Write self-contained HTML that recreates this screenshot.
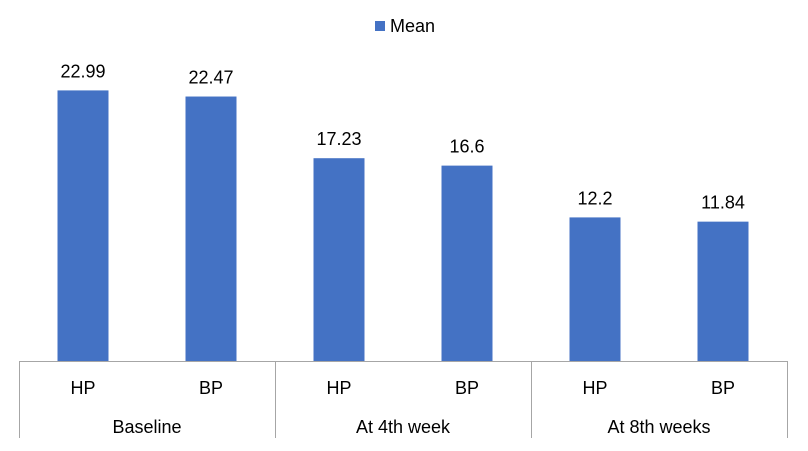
<!DOCTYPE html>
<html><head><meta charset="utf-8"><style>
body{margin:0;background:#fff;}
svg text{font-family:"Liberation Sans",sans-serif;fill:#000;}
</style></head><body>
<svg id="chart" width="808" height="446">
<g>
<rect x="375" y="21" width="10" height="10" fill="#4472C4"></rect>
<text x="390" y="32" font-size="18">Mean</text>
</g>
<g id="bars"></g>
<g id="axis"></g>
</svg>
<script>
const groups = ["Baseline","At 4th week","At 8th weeks"];
const subLabels = ["HP","BP","HP","BP","HP","BP"];
const values = [22.99,22.47,17.23,16.6,12.2,11.84];
const valueLabels = ["22.99","22.47","17.23","16.6","12.2","11.84"];
const ns="http://www.w3.org/2000/svg";
const x0=19,x1=787,y0=361,scale=11.77;
const band=(x1-x0)/values.length, barW=51;
const xPos=i=>x0+band*i+band/2;
const yPos=v=>y0-v*scale;
const bars=document.getElementById('bars'), axis=document.getElementById('axis');
function mk(tag,attrs,parent){const e=document.createElementNS(ns,tag);for(const k in attrs)e.setAttribute(k,attrs[k]);parent.appendChild(e);return e;}
values.forEach((v,i)=>{
  const r=mk('rect',{x:xPos(i)-barW/2,y:yPos(v),width:barW,height:y0-yPos(v),fill:'#4472C4'},bars);
  
  
  const t=mk('text',{x:xPos(i),y:yPos(v)-13,'font-size':18,'text-anchor':'middle'},bars);
  t.textContent=valueLabels[i];
  
  
  const s=mk('text',{x:xPos(i),y:394,'font-size':18,'text-anchor':'middle'},axis);
  s.textContent=subLabels[i];
  
  
});
const ax=mk('line',{x1:x0,x2:x1,y1:y0+0.5,y2:y0+0.5,stroke:'#A6A6A6','stroke-width':1},axis);


const gw=(x1-x0)/groups.length;
for(let g=0;g<=groups.length;g++){
  const l=mk('line',{x1:x0+gw*g+0.5,x2:x0+gw*g+0.5,y1:y0,y2:438,stroke:'#A6A6A6','stroke-width':1},axis);
  
  
}
groups.forEach((g,i)=>{
  const t=mk('text',{x:x0+gw*i+gw/2,y:433,'font-size':18,'text-anchor':'middle'},axis);
  t.textContent=g;
  
  
});
</script>
</body></html>
